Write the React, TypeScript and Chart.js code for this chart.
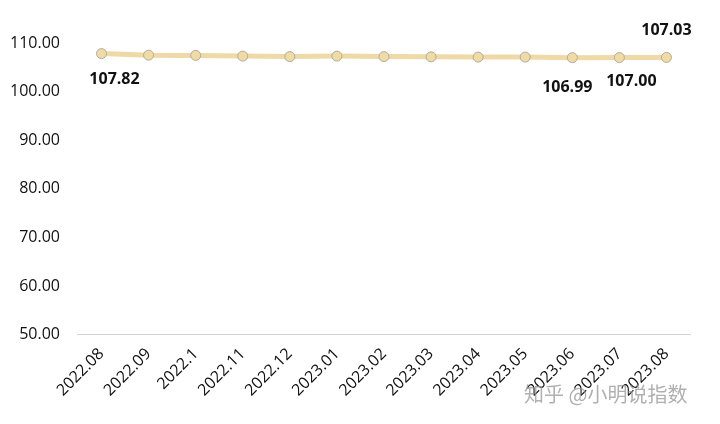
import React, { useEffect, useRef } from "react";
import { Chart, registerables } from "chart.js";

Chart.register(...registerables);

const categories = ["2022.08", "2022.09", "2022.1", "2022.11", "2022.12", "2023.01", "2023.02", "2023.03", "2023.04", "2023.05", "2023.06", "2023.07", "2023.08"];
const values = [107.82, 107.5, 107.45, 107.3, 107.2, 107.3, 107.2, 107.15, 107.1, 107.1, 106.99, 107.0, 107.03];
const labeledIndices = [0, 10, 11, 12];
const labelAbove = [12];

const labelPlugin = {
  id: "valueLabels",
  afterDatasetsDraw(chart: any) {
    const ctx = chart.ctx;
    const meta = chart.getDatasetMeta(0);
    ctx.save();
    ctx.font = "bold 16px 'Open Sans'";
    ctx.fillStyle = "#111";
    ctx.textAlign = "center";
    ctx.textBaseline = "middle";
    labeledIndices.forEach((i) => {
      const pt = meta.data[i];
      const above = labelAbove.includes(i);
      let dx = 0;
      if (i === 0) dx = 13;
      if (i === 11) dx = 12;
      if (i === 10) dx = -5;
      const dy = above ? -27 : i === 10 ? 30 : i === 11 ? 24 : 26;
      ctx.fillText(values[i].toFixed(2), pt.x + dx, pt.y + dy);
    });
    ctx.font = "20px 'Noto Sans CJK SC'";
    ctx.fillStyle = "rgba(150,150,150,0.75)";
    ctx.textAlign = "left";
    ctx.fillText("知乎 @小明说指数", 524, 394);
    ctx.restore();
  },
};

export default function App() {
  const ref = useRef<HTMLCanvasElement>(null);
  useEffect(() => {
    document.body.style.margin = "0";
    const chart = new Chart(ref.current!, {
      type: "line",
      data: {
        labels: categories,
        datasets: [
          {
            data: values,
            borderColor: "#efd9a6",
            borderWidth: 5,
            pointRadius: 5,
            pointBackgroundColor: "#f1dba4",
            pointBorderColor: "#b0aca0",
            pointBorderWidth: 1,
            tension: 0,
          },
        ],
      },
      options: {
        animation: false,
        responsive: false,
        layout: { padding: { left: 0, right: 30, top: 43, bottom: 22 } },
        plugins: { legend: { display: false }, tooltip: { enabled: false } },
        scales: {
          x: {
            offset: true,
            grid: { display: false },
            border: { color: "#d4d4d4", width: 1 },
            ticks: {
              color: "#111",
              font: { family: "'Open Sans'", size: 16 },
              maxRotation: 45,
              minRotation: 45,
              padding: 2,
            },
          },
          y: {
            min: 50,
            max: 110,
            grid: { display: false },
            border: { display: false },
            ticks: {
              stepSize: 10,
              color: "#111",
              font: { family: "'Open Sans'", size: 16 },
              padding: 10,
              callback: (v: any) => Number(v).toFixed(2),
            },
          },
        },
      },
      plugins: [labelPlugin],
    });
    return () => chart.destroy();
  }, []);
  return <canvas ref={ref} width={720} height={424} />;
}
